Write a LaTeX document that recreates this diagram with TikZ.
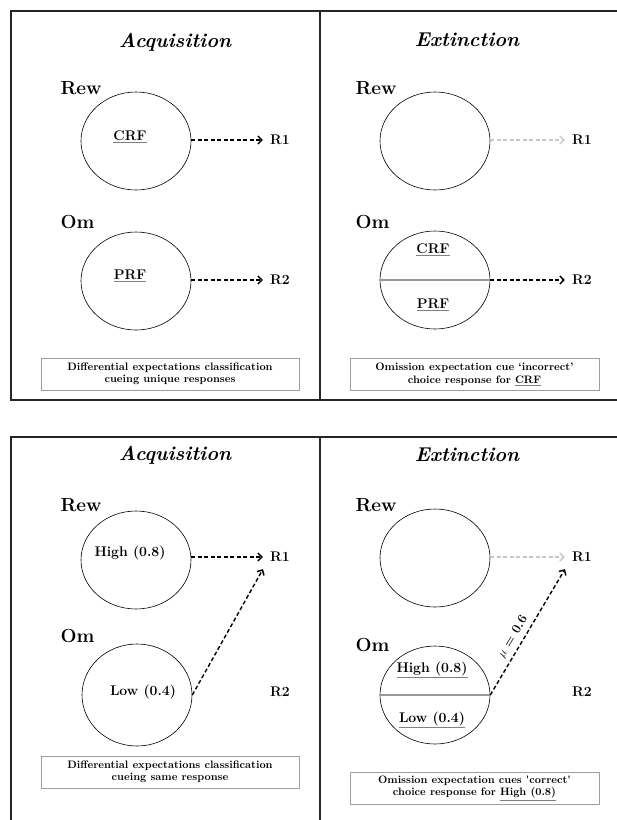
\documentclass[tikz,border=0pt]{standalone}
\usetikzlibrary{shapes.geometric,arrows.meta}
\definecolor{fadegray}{gray}{0.78}
\definecolor{splitgray}{gray}{0.6}
\definecolor{boxgray}{gray}{0.62}
\newcommand{\grul}[1]{{\color{gray}\underline{\color{black}#1}}}
\tikzset{
  panel/.style={line width=1.6pt,draw=black!85},
  title/.style={font=\fontsize{20}{24}\selectfont\bfseries\itshape},
  cue/.style={anchor=west,font=\fontsize{19}{22}\selectfont\bfseries},
  stim/.style={ellipse,draw,line width=0.6pt,minimum width=110,minimum height=98,inner sep=0pt},
  inner/.style={font=\fontsize{14}{16}\selectfont\bfseries},
  resp/.style={inner sep=7pt,font=\fontsize{14}{16}\selectfont\bfseries},
  link/.style={line width=1.4pt,dash pattern=on 4pt off 2.5pt,-{Straight Barb[length=4pt,width=8pt,line width=1.5pt]}},
  fadelink/.style={link,draw=fadegray},
  split/.style={line width=1.6pt,draw=splitgray},
  mulabel/.style={pos=0.42,sloped,above,inner sep=4pt,font=\fontsize{13}{15}\selectfont\bfseries},
  note/.style={draw=boxgray,line width=0.6pt,minimum width=258,minimum height=32,align=center,inner sep=1pt,
    font=\fontsize{10.8}{12.5}\selectfont\bfseries}
}
\begin{document}
\begin{tikzpicture}[x=1pt,y=-1pt]
	\useasboundingbox (0,0) rectangle (617,820);
	\clip (0,0) rectangle (617,820);
	% frames
	\draw[panel] (11,11) rectangle (640,400);
	\draw[panel] (320,11) -- (320,400);
	\draw[panel] (11,437) rectangle (640,840);
	\draw[panel] (320,437) -- (320,840);
	% top left
	\node[title] (ttlA) at (175,42) {Acquisition};
	\node[cue] (rewlA) at (57,88) {Rew};
	\node[stim] (rewA) at (136,141) {};
	\node[inner] (crfA) at (130,137) {\grul{CRF}};
	\node[resp] (r1A) at (280,140) {R1};
	\draw[link] (rewA.east |- r1A.west) -- (r1A.west);
	\node[cue] (omlA) at (57,222) {Om};
	\node[stim] (omA) at (136,281) {};
	\node[inner] (prfA) at (130,276) {\grul{PRF}};
	\node[resp] (r2A) at (280,280) {R2};
	\draw[link] (omA.east |- r2A.west) -- (r2A.west);
	\node[note] (noteA) at (170,374) {Differential expectations classification\\cueing unique responses};
	% top right
	\node[title] (ttlB) at (467,40) {Extinction};
	\node[cue] (rewlB) at (352,88) {Rew};
	\node[stim] (rewB) at (435,141) {};
	\node[resp] (r1B) at (582,140) {R1};
	\draw[fadelink] (rewB.east |- r1B.west) -- (r1B.west);
	\node[cue] (omlB) at (352,222) {Om};
	\node[stim] (omB) at (435,280) {};
	\draw[split] (omB.west) -- (omB.east);
	\node[inner] (crfB) at (433,250) {\grul{CRF}};
	\node[inner] (prfB) at (433,305) {\grul{PRF}};
	\node[resp] (r2B) at (582,280) {R2};
	\draw[link] (omB.east) -- (r2B.west);
	\node[note,minimum width=249] (noteB) at (474.5,374.5) {Omission expectation cue `incorrect'\\choice response for \grul{CRF}};
	% bottom left
	\node[title] (ttlC) at (175,455) {Acquisition};
	\node[cue] (rewlC) at (57,505) {Rew};
	\node[stim] (rewC) at (136,560) {};
	\node[inner] (highC) at (130,553) {High (0.8)};
	\node[resp] (r1C) at (280,557) {R1};
	\draw[link] (rewC.east |- r1C.west) -- (r1C.west);
	\node[cue] (omlC) at (57,636) {Om};
	\node[stim,minimum height=102] (omC) at (137,695) {};
	\node[inner] (lowC) at (143,692) {Low (0.4)};
	\node[resp] (r2C) at (280,692) {R2};
	\draw[link] (omC.east) -- (r1C.south west);
	\node[note] (noteC) at (170,772) {Differential expectations classification\\cueing same response};
	% bottom right
	\node[title] (ttlD) at (467,455) {Extinction};
	\node[cue] (rewlD) at (352,505) {Rew};
	\node[stim] (rewD) at (435,558) {};
	\node[resp] (r1D) at (582,557) {R1};
	\draw[fadelink] (rewD.east |- r1D.west) -- (r1D.west);
	\node[cue] (omlD) at (352,645) {Om};
	\node[stim] (omD) at (435,695) {};
	\draw[split] (omD.west) -- (omD.east);
	\node[inner] (highD) at (432,670) {\grul{High (0.8)}};
	\node[inner] (lowD) at (432,720) {\grul{Low (0.4)}};
	\node[resp] (r2D) at (582,692) {R2};
	\draw[link] (omD.east) -- node[mulabel] {$\mu$ = 0.6} (r1D.south west);
	\node[note,minimum width=249] (noteD) at (474.5,788) {Omission expectation cues \textquotesingle correct\textquotesingle\\choice response for \grul{High (0.8)}};
\end{tikzpicture}
\end{document}
